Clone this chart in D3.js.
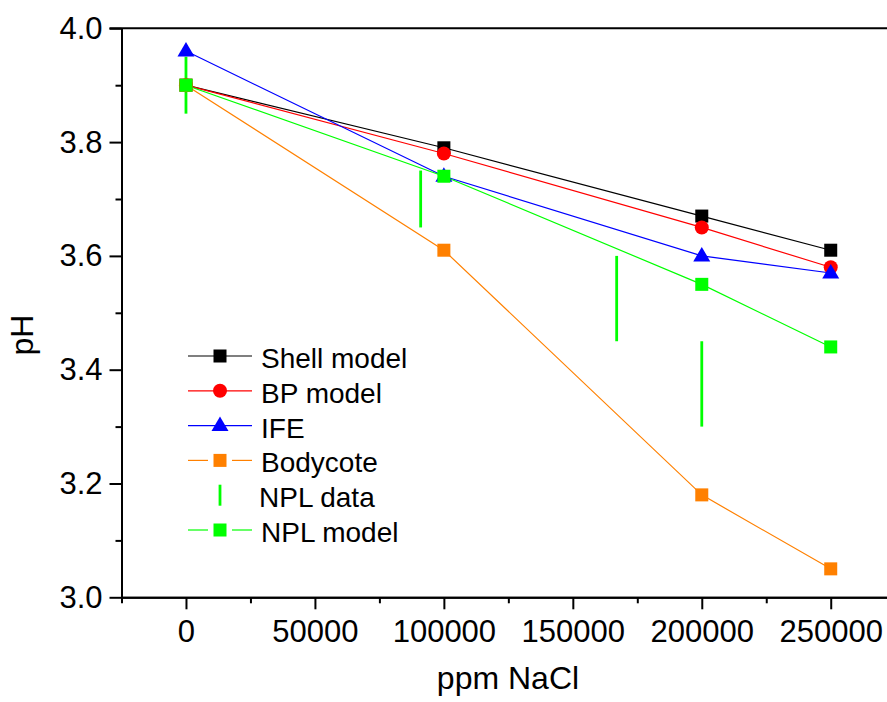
<!DOCTYPE html>
<html>
<head>
<meta charset="utf-8">
<script src="https://cdn.jsdelivr.net/npm/d3@7"></script>
<style>
  body { margin: 0; background: #fff; }
  svg { display: block; font-family: "Liberation Sans", Arial, sans-serif; }
</style>
</head>
<body>
<div id="chart"></div>
<script>
// data
const nacl = [0, 100000, 200000, 250000];
const shellModel = [3.90, 3.79, 3.67, 3.61];
const bpModel = [3.90, 3.78, 3.65, 3.58];
const ife = [3.96, 3.74, 3.60, 3.57];
const bodycote = [3.90, 3.61, 3.18, 3.05];
const nplModel = [3.90, 3.74, 3.55, 3.44];
// NPL data shown as vertical bars (low / high)
const nplDataX = [0, 91000, 167000, 200000];
const nplDataLow = [3.85, 3.65, 3.45, 3.30];
const nplDataHigh = [3.95, 3.75, 3.60, 3.45];
const xTicks = [0, 50000, 100000, 150000, 200000, 250000];
const xMinorTicks = [-25000, 25000, 75000, 125000, 175000, 225000, 275000];
const yTicks = [3.0, 3.2, 3.4, 3.6, 3.8, 4.0];
const yMinorTicks = [3.1, 3.3, 3.5, 3.7, 3.9];

const W = 887, H = 702;
const margin = { top: 28.3, right: -8.2, bottom: 104.7, left: 121.5 };

const svg = d3.select("#chart")
    .append("svg")
    .attr("width", W)
    .attr("height", H);

const x = d3.scaleLinear()
    .domain([-25000, 275000])
    .range([margin.left, W - margin.right]);

const y = d3.scaleLinear()
    .domain([3.0, 4.0])
    .range([H - margin.bottom, margin.top]);

const series = [
    { name: "Shell model", values: shellModel, color: "#000000", shape: "square", gap: false },
    { name: "BP model", values: bpModel, color: "#FF0000", shape: "circle", gap: false },
    { name: "IFE", values: ife, color: "#0000FF", shape: "triangle", gap: false },
    { name: "Bodycote", values: bodycote, color: "#FF8000", shape: "square", gap: true },
    { name: "NPL model", values: nplModel, color: "#00FF00", shape: "square", gap: true }
];

function drawMarker(g, shape, color, cx, cy) {
    if (shape === "square") {
        g.append("rect")
            .attr("x", cx - 6.5).attr("y", cy - 6.5)
            .attr("width", 13).attr("height", 13)
            .attr("fill", color);
    } else if (shape === "circle") {
        g.append("circle")
            .attr("cx", cx).attr("cy", cy).attr("r", 7)
            .attr("fill", color);
    } else {
        g.append("path")
            .attr("d", `M${cx},${cy - 9}L${cx + 8.5},${cy + 5.5}L${cx - 8.5},${cy + 5.5}Z`)
            .attr("fill", color);
    }
}

// Axes
const xAxis = svg.append("g")
    .attr("transform", `translate(0,${y(3.0)})`)
    .call(d3.axisBottom(x).tickValues(xTicks).tickFormat(d3.format("d")).tickSize(12).tickSizeOuter(0));
const xMinor = svg.append("g")
    .attr("transform", `translate(0,${y(3.0)})`)
    .call(d3.axisBottom(x).tickValues(xMinorTicks).tickFormat("").tickSize(6).tickSizeOuter(0));

const yAxis = svg.append("g")
    .attr("transform", `translate(${x(-25000)},0)`)
    .call(d3.axisLeft(y).tickValues(yTicks).tickFormat(d3.format(".1f")).tickSize(12).tickSizeOuter(0));
const yMinor = svg.append("g")
    .attr("transform", `translate(${x(-25000)},0)`)
    .call(d3.axisLeft(y).tickValues(yMinorTicks).tickFormat("").tickSize(6).tickSizeOuter(0));

[xAxis, xMinor, yAxis, yMinor].forEach(a => {
    a.selectAll(".domain").attr("stroke", "#000").attr("stroke-width", 2);
    a.selectAll(".tick line").attr("stroke", "#000").attr("stroke-width", 2);
});
xAxis.selectAll(".tick text")
    .attr("font-size", "31px").attr("fill", "#000")
    .attr("y", 45).attr("dy", null);
yAxis.selectAll(".tick text")
    .attr("font-size", "31px").attr("fill", "#000")
    .attr("x", -19).attr("dy", "0.32em");

// top frame line
svg.append("line")
    .attr("x1", x(-25000) - 12).attr("x2", W)
    .attr("y1", y(4.0)).attr("y2", y(4.0))
    .attr("stroke", "#000").attr("stroke-width", 2);

// axis titles
svg.append("text")
    .attr("x", 508).attr("y", 689)
    .attr("text-anchor", "middle")
    .attr("font-size", "32px")
    .text("ppm NaCl");
svg.append("text")
    .attr("transform", "translate(33,335) rotate(-90)")
    .attr("text-anchor", "middle")
    .attr("font-size", "32px")
    .text("pH");

// lines
const line = d3.line().x((d, i) => x(nacl[i])).y(d => y(d));
series.forEach(s => {
    svg.append("path")
        .datum(s.values)
        .attr("d", line)
        .attr("fill", "none")
        .attr("stroke", s.color)
        .attr("stroke-width", 1.2);
});

// NPL data bars
const bars = svg.append("g");
nplDataX.forEach((v, i) => {
    bars.append("line")
        .attr("x1", x(v)).attr("x2", x(v))
        .attr("y1", y(nplDataLow[i])).attr("y2", y(nplDataHigh[i]))
        .attr("stroke", "#00FF00").attr("stroke-width", 2.8);
});

// markers
series.forEach(s => {
    const g = svg.append("g");
    s.values.forEach((v, i) => drawMarker(g, s.shape, s.color, x(nacl[i]), y(v)));
});

// legend
const legend = svg.append("g");
const legendItems = [
    series[0], series[1], series[2], series[3],
    { name: "NPL data", color: "#00FF00", shape: "bar" },
    series[4]
];
legendItems.forEach((s, i) => {
    const cy = 356 + i * 34.8;
    const g = legend.append("g");
    if (s.shape === "bar") {
        g.append("line")
            .attr("x1", 220).attr("x2", 220)
            .attr("y1", cy - 10.5).attr("y2", cy + 10.5)
            .attr("stroke", s.color).attr("stroke-width", 2.8);
    } else {
        if (s.gap) {
            g.append("line").attr("x1", 188).attr("x2", 208).attr("y1", cy).attr("y2", cy)
                .attr("stroke", s.color).attr("stroke-width", 1.2);
            g.append("line").attr("x1", 232).attr("x2", 252).attr("y1", cy).attr("y2", cy)
                .attr("stroke", s.color).attr("stroke-width", 1.2);
        } else {
            g.append("line").attr("x1", 188).attr("x2", 252).attr("y1", cy).attr("y2", cy)
                .attr("stroke", s.color).attr("stroke-width", 1.2);
        }
        drawMarker(g, s.shape, s.color, 220, cy);
    }
    g.append("text")
        .attr("x", s.shape === "bar" ? 259 : 261)
        .attr("y", cy + 12)
        .attr("font-size", "28px")
        .text(s.name);
});
</script>
</body>
</html>
